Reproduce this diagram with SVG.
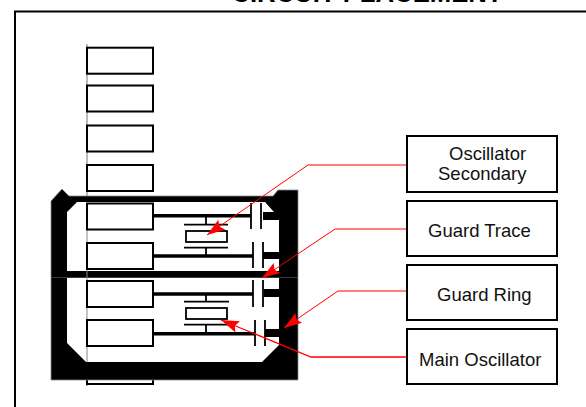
<svg xmlns="http://www.w3.org/2000/svg" width="586" height="407" viewBox="0 0 586 407">
<style>
.t{font-family:"Liberation Sans",Arial,sans-serif;font-size:18.5px;fill:#111}
.box{fill:#fff;stroke:#000;stroke-width:2}
.pad{fill:none;stroke:#000;stroke-width:2}
.tr{fill:none;stroke:#000;stroke-width:3.5}
.th{fill:none;stroke:#000;stroke-width:1.8}
.lead{fill:none;stroke:#f00;stroke-width:1}
</style>
<defs>
<marker id="ah" markerUnits="userSpaceOnUse" markerWidth="19" markerHeight="13" refX="18" refY="6" orient="auto">
<path d="M0 0L18 6L0 12L3 6Z" fill="#f00"/>
</marker>
</defs>
<rect width="586" height="407" fill="#fff"/>
<path d="M15 407V11.500H586" fill="none" stroke="#000" stroke-width="2"/>
<text x="367" y="1.500" text-anchor="middle" style="font-family:'Liberation Sans',Arial,sans-serif;font-size:25.700px;font-weight:bold;fill:#000">CIRCUIT PLACEMENT</text>
<g id="pads">
<path d="M87 44V386" stroke="#777" stroke-width="1" fill="none"/>
<rect class="pad" x="87" y="47.700" width="66" height="26"/>
<rect class="pad" x="87" y="85.500" width="66" height="26"/>
<rect class="pad" x="87" y="125.500" width="66" height="26"/>
<rect class="pad" x="87" y="165" width="66" height="26"/>
<rect class="pad" x="87" y="357.500" width="66" height="26.500"/>
</g>
<g id="guard-ring">
<path d="M51 201L62 189L69 196H273L278 190H298V380H51Z" fill="#000" stroke="#888" stroke-width="0.8"/>
<path d="M67 212L77 202H265L274 212V220H279V271H67Z" fill="#fff"/>
<path d="M67 278H279V345L262 362H86L67 343Z" fill="#fff"/>
<path d="M51 277.500H298" stroke="#555" stroke-width="0.7"/>
<rect x="263" y="212" width="16" height="8"/>
<rect x="263" y="252" width="16" height="7"/>
<rect x="264" y="289" width="15" height="8"/>
<rect x="265" y="329" width="14" height="8"/>
<path d="M87 203V362" stroke="#888" stroke-width="1" fill="none"/>
</g>
<g id="upper-circuit">
<rect class="pad" x="87" y="203.500" width="66" height="26"/>
<rect class="pad" x="87" y="243" width="66" height="26"/>
<path class="tr" d="M153 215.700H251M153 256H253"/>
<path class="th" d="M206 216V224M206 248V256M184 224.700H228M184 247.700H228M251 203V229M261 203V229M253 242V268M263 242V268"/>
<rect class="th" x="186" y="231" width="41" height="11"/>
</g>
<g id="lower-circuit">
<rect class="pad" x="87" y="281" width="66" height="26"/>
<rect class="pad" x="87" y="320" width="66" height="26"/>
<path class="tr" d="M153 294H253M153 333.700H255"/>
<path class="th" d="M206 294V302M206 325V334M184 301.700H229M184 324.700H229M253 280V307M263 280V307M255 320V346M265 320V346"/>
<rect class="th" x="186" y="308" width="41" height="11"/>
</g>
<g id="connectors">
<path class="lead" marker-end="url(#ah)" d="M407 165H308L207 235"/>
<path class="lead" marker-end="url(#ah)" d="M407 229H335L262 278"/>
<path class="lead" marker-end="url(#ah)" d="M407 291H338L284 328"/>
<path class="lead" style="stroke-width:1.300" marker-end="url(#ah)" d="M407 357H311L221 320"/>
</g>
<g id="label-oscillator-secondary">
<rect class="box" x="407" y="136" width="150" height="56"/>
<text class="t" x="449" y="160">Oscillator</text>
<text class="t" x="438" y="180">Secondary</text>
</g>
<g id="label-guard-trace">
<rect class="box" x="407" y="201" width="150" height="55"/>
<text class="t" x="428" y="237">Guard Trace</text>
</g>
<g id="label-guard-ring">
<rect class="box" x="407" y="265" width="150" height="55"/>
<text class="t" x="437" y="301">Guard Ring</text>
</g>
<g id="label-main-oscillator">
<rect class="box" x="407" y="329" width="150" height="55"/>
<text class="t" x="419" y="366">Main Oscillator</text>
</g>
</svg>
